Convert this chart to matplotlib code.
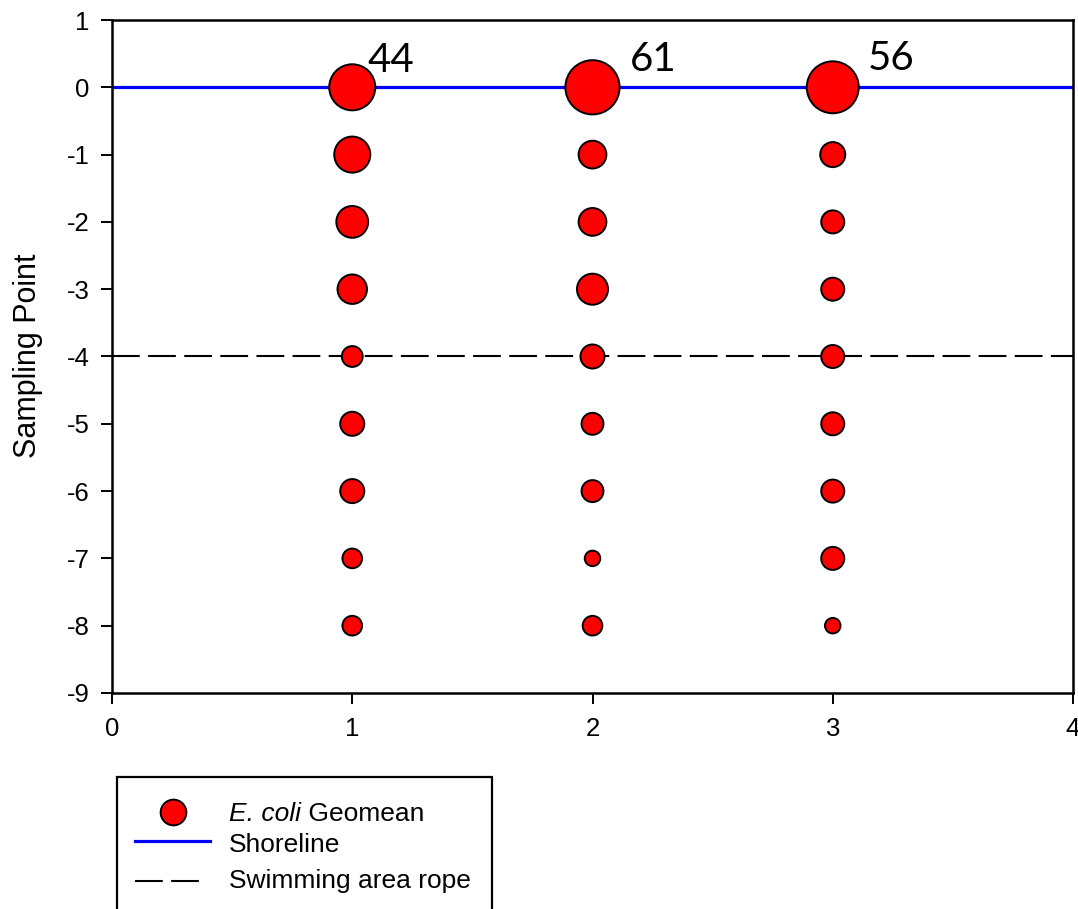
import matplotlib
matplotlib.use("Agg")
import matplotlib.pyplot as plt
from matplotlib.lines import Line2D
from matplotlib.patches import Rectangle
from matplotlib.transforms import offset_copy

plt.rcParams["font.family"] = ["Liberation Sans", "DejaVu Sans"]
plt.rcParams["lines.scale_dashes"] = False

# Transects along the beach and sampling points moving offshore
transects = [1, 2, 3]
sampling_points = [0, -1, -2, -3, -4, -5, -6, -7, -8]

# E. coli geometric means (MPN/100 mL) per transect, ordered by sampling point
geomean_t1 = [44, 27, 21, 18, 9, 12, 12, 8, 8]
geomean_t2 = [61, 16, 16, 20, 12, 10, 10, 5, 8]
geomean_t3 = [56, 13, 11, 11, 11, 11, 11, 11, 5]

shoreline_y = 0
rope_y = -4

x_ticks = [0, 1, 2, 3, 4]
y_ticks = [1, 0, -1, -2, -3, -4, -5, -6, -7, -8, -9]

# bubble area scales with the geomean
AREA_PER_UNIT = 25.0
label_offsets_pt = [(11.0, 10.8), (26.6, 11.5), (25.2, 12.2)]

fig = plt.figure(figsize=(10.78, 9.09), dpi=100)
ax = fig.add_axes([112 / 1078, 216 / 909, 961 / 1078, 673 / 909])

ax.axhline(shoreline_y, color="#0000ff", lw=2.3, zorder=2)
ax.axhline(rope_y, color="black", lw=1.5, linestyle=(0, (20, 6)), zorder=2)

series = [geomean_t1, geomean_t2, geomean_t3]
for x, vals in zip(transects, series):
    ax.scatter([x] * len(vals), sampling_points,
               s=[AREA_PER_UNIT * v for v in vals],
               facecolor="#ff0000", edgecolor="black", linewidth=1.4, zorder=3)

# annotate the shoreline geomeans
for x, vals, off in zip(transects, series, label_offsets_pt):
    ax.annotate(str(vals[0]), xy=(x, sampling_points[0]), xytext=off,
                textcoords="offset points", ha="left", va="baseline",
                fontsize=29, family="Lato", color="black", zorder=4)

ax.set_xlim(0, 4)
ax.set_ylim(-9, 1)
ax.set_xticks(x_ticks)
ax.set_yticks(y_ticks)
ax.set_xticklabels([str(t) for t in x_ticks])
ax.set_yticklabels([str(t) for t in y_ticks])
ax.tick_params(axis="both", direction="out", length=8, width=1.4,
               labelsize=18.5, colors="black")
ax.tick_params(axis="x", pad=9)
ax.tick_params(axis="y", pad=8)
for sp in ax.spines.values():
    sp.set_linewidth(1.8)
    sp.set_color("black")

fig.text(28 / 1078, 1 - 356 / 909, "Sampling Point", rotation=90,
         ha="center", va="center", fontsize=22)

# legend box, running past the lower edge of the figure
def fx(px):
    return px / 1078

def fy(py):
    return 1 - py / 909

fig.add_artist(Rectangle((fx(117), fy(960)), fx(492) - fx(117), fy(777) - fy(960),
                         transform=fig.transFigure, fill=False,
                         edgecolor="black", linewidth=1.6))
fig.add_artist(Line2D([fx(173)], [fy(812)], marker="o", markersize=18.5,
                      markerfacecolor="#ff0000", markeredgecolor="black",
                      markeredgewidth=1.4, transform=fig.transFigure))
fig.add_artist(Line2D([fx(135), fx(210)], [fy(841), fy(841)], color="#0000ff",
                      lw=2.3, transform=fig.transFigure))
fig.add_artist(Line2D([fx(135), fx(200)], [fy(881), fy(881)], color="black",
                      lw=1.5, linestyle=(0, (20, 6)), transform=fig.transFigure))

# italic species name followed by upright word
species = fig.text(fx(229), fy(821), "E. coli", fontsize=19, style="italic",
                   ha="left", va="baseline")
fig.canvas.draw()
w_px = species.get_window_extent().width
fig.text(fx(229), fy(821), " Geomean", fontsize=19, ha="left", va="baseline",
         transform=offset_copy(fig.transFigure, fig=fig, x=w_px * 72 / fig.dpi,
                               y=0, units="points"))
fig.text(fx(229), fy(852), "Shoreline", fontsize=19, ha="left", va="baseline")
fig.text(fx(229), fy(888), "Swimming area rope", fontsize=19,
         ha="left", va="baseline")

fig.savefig("out.png", dpi=100)
